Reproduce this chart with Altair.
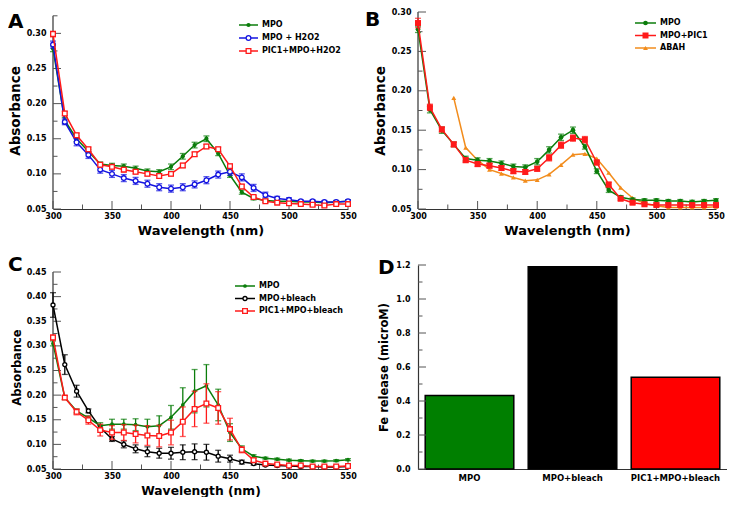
import altair as alt
import pandas as pd

FONT = "DejaVu Sans"
AX = "#333333"
TK = "#555555"
GREEN = "#0b7d0b"
BLUE = "#1414e0"
RED = "#ff1a1a"
ORANGE = "#f28c1c"
BLACK = "#000000"

WL = list(range(300, 551, 10))
ABAH_WL = list(range(330, 551, 10))

# Panel A / B shared MPO spectrum
MPO = [0.278, 0.176, 0.150, 0.132, 0.114, 0.112, 0.111, 0.108, 0.104, 0.103, 0.110, 0.125, 0.141,
       0.150, 0.129, 0.098, 0.074, 0.065, 0.062, 0.061, 0.061, 0.060, 0.060, 0.059, 0.060, 0.061]
MPO_ERR = [0.004, 0.004, 0.004, 0.003, 0.003, 0.003, 0.003, 0.003, 0.003, 0.003, 0.004, 0.004, 0.004,
           0.004, 0.003, 0.003, 0.003, 0.002, 0.002, 0.002, 0.002, 0.002, 0.002, 0.002, 0.002, 0.002]
MPO_H2O2 = [0.284, 0.174, 0.145, 0.127, 0.106, 0.100, 0.094, 0.090, 0.086, 0.081, 0.079, 0.081, 0.085,
            0.091, 0.099, 0.103, 0.095, 0.080, 0.070, 0.065, 0.063, 0.061, 0.061, 0.060, 0.060, 0.061]
MPO_H2O2_ERR = [0.005, 0.004, 0.005, 0.005, 0.005, 0.005, 0.005, 0.005, 0.005, 0.005, 0.005, 0.005, 0.005,
                0.005, 0.005, 0.005, 0.005, 0.005, 0.004, 0.003, 0.003, 0.002, 0.002, 0.002, 0.002, 0.002]
PIC_H2O2 = [0.299, 0.186, 0.155, 0.135, 0.113, 0.110, 0.106, 0.103, 0.100, 0.097, 0.100, 0.112, 0.128,
            0.139, 0.135, 0.111, 0.082, 0.067, 0.061, 0.059, 0.058, 0.057, 0.056, 0.055, 0.057, 0.057]
PIC_H2O2_ERR = [0.004, 0.003, 0.003, 0.003, 0.003, 0.003, 0.003, 0.003, 0.003, 0.003, 0.003, 0.003, 0.003,
                0.003, 0.003, 0.003, 0.003, 0.002, 0.002, 0.002, 0.002, 0.002, 0.002, 0.002, 0.002, 0.002]

# Panel B
MPO_PIC = [0.286, 0.179, 0.151, 0.132, 0.112, 0.107, 0.105, 0.102, 0.098, 0.097, 0.101, 0.115, 0.131,
           0.140, 0.138, 0.109, 0.081, 0.063, 0.058, 0.056, 0.055, 0.055, 0.055, 0.055, 0.055, 0.055]
MPO_PIC_ERR = [0.006, 0.004, 0.003, 0.003, 0.003, 0.003, 0.003, 0.003, 0.003, 0.003, 0.003, 0.004, 0.004,
               0.004, 0.004, 0.003, 0.003, 0.002, 0.002, 0.002, 0.002, 0.002, 0.002, 0.002, 0.002, 0.002]
ABAH = [0.191, 0.128, 0.112, 0.100, 0.095, 0.090, 0.086, 0.087, 0.094, 0.106, 0.119, 0.120,
        0.114, 0.096, 0.077, 0.064, 0.057, 0.054, 0.052, 0.052, 0.052, 0.052, 0.053]

# Panel C
C_MPO = [0.305, 0.195, 0.168, 0.154, 0.138, 0.141, 0.141, 0.140, 0.136, 0.138, 0.155, 0.180, 0.208,
         0.219, 0.180, 0.124, 0.091, 0.076, 0.072, 0.070, 0.068, 0.067, 0.066, 0.066, 0.067, 0.069]
C_MPO_ERR = [0.005, 0.004, 0.004, 0.004, 0.006, 0.010, 0.010, 0.012, 0.015, 0.020, 0.024, 0.035, 0.044,
             0.043, 0.032, 0.018, 0.006, 0.003, 0.002, 0.002, 0.002, 0.002, 0.002, 0.002, 0.002, 0.002]
BLEACH = [0.383, 0.262, 0.208, 0.168, 0.134, 0.111, 0.100, 0.091, 0.085, 0.082, 0.082, 0.084, 0.085,
          0.084, 0.076, 0.071, 0.064, 0.061, 0.058, 0.057, 0.056, 0.055, 0.055, 0.054, 0.054, 0.055]
BLEACH_ERR = [0.025, 0.020, 0.012, 0.004, 0.005, 0.005, 0.007, 0.008, 0.010, 0.010, 0.012, 0.015, 0.016,
              0.016, 0.012, 0.007, 0.004, 0.003, 0.002, 0.002, 0.002, 0.002, 0.002, 0.002, 0.002, 0.002]
PIC_BLEACH = [0.317, 0.195, 0.166, 0.149, 0.129, 0.124, 0.124, 0.121, 0.118, 0.117, 0.124, 0.146, 0.172,
              0.183, 0.174, 0.131, 0.089, 0.068, 0.061, 0.059, 0.057, 0.057, 0.055, 0.055, 0.055, 0.056]
PIC_BLEACH_ERR = [0.005, 0.004, 0.006, 0.008, 0.012, 0.014, 0.016, 0.018, 0.020, 0.022, 0.025, 0.030, 0.036,
                  0.040, 0.033, 0.022, 0.006, 0.004, 0.003, 0.002, 0.002, 0.002, 0.002, 0.002, 0.002, 0.002]

# Panel D
D_CATS = ["MPO", "MPO+bleach", "PIC1+MPO+bleach"]
D_VALS = [0.432, 1.189, 0.540]
D_COLORS = ["#007f00", "#000000", "#ff0000"]

X_MAJOR = [300, 350, 400, 450, 500, 550]
X_MINOR = [325, 375, 425, 475, 525]
AB_Y_MAJOR = [0.05, 0.10, 0.15, 0.20, 0.25, 0.30]
A_Y_MINOR = [0.075, 0.125, 0.175, 0.225, 0.275, 0.325]
B_Y_MINOR = [0.075, 0.125, 0.175, 0.225, 0.275]
C_Y_MAJOR = [0.05, 0.10, 0.15, 0.20, 0.25, 0.30, 0.35, 0.40, 0.45]
C_Y_MINOR = [0.075, 0.125, 0.175, 0.225, 0.275, 0.325, 0.375, 0.425]
D_Y_MAJOR = [0.0, 0.2, 0.4, 0.6, 0.8, 1.0, 1.2]
D_Y_MINOR = [0.1, 0.3, 0.5, 0.7, 0.9, 1.1]

MAJ_LEN = 8
MIN_LEN = 4.5


def point_mark(shape, color, filled, size, data=None):
    ch = alt.Chart(data) if data is not None else alt.Chart()
    if filled:
        return ch.mark_point(shape=shape, filled=True, color=color, size=size, opacity=1)
    return ch.mark_point(shape=shape, filled=True, fill="white", stroke=color,
                         strokeWidth=1.3, size=size, opacity=1)


def series_layers(X, Y, wl, vals, errs, color, shape, filled, size):
    df = pd.DataFrame({"wl": wl, "v": vals})
    out = []
    if errs is not None:
        df["e"] = errs
        eb = alt.Chart(df).transform_calculate(lo="datum.v - datum.e", hi="datum.v + datum.e")
        out.append(eb.mark_rule(color=color, strokeWidth=1.3).encode(
            x=X("wl"), y=Y("lo"), y2="hi:Q"))
        for f in ["lo", "hi"]:
            out.append(eb.mark_tick(color=color, orient="horizontal", size=6, thickness=1.3).encode(
                x=X("wl"), y=Y(f)))
    out.append(alt.Chart(df).mark_line(color=color, strokeWidth=1.5).encode(x=X("wl"), y=Y("v")))
    out.append(point_mark(shape, color, filled, size, df).encode(x=X("wl"), y=Y("v")))
    return out


def legend_layers(entries, lx0, lx1, tx, rows):
    out = []
    for (label, color, shape, filled, size), y in zip(entries, rows):
        d = pd.DataFrame({"label": [label]})
        out.append(alt.Chart(d).mark_rule(color=color, strokeWidth=1.5).encode(
            x=alt.value(lx0), x2=alt.value(lx1), y=alt.value(y)))
        out.append(point_mark(shape, color, filled, size, d).encode(
            x=alt.value((lx0 + lx1) / 2), y=alt.value(y)))
        out.append(alt.Chart(d).mark_text(align="left", baseline="middle", font=FONT, fontSize=8,
                                          fontWeight="bold", color="black").encode(
            x=alt.value(tx), y=alt.value(y), text="label:N"))
    return out


def letter_layer(letter, x, y):
    return alt.Chart(pd.DataFrame({"t": [letter]})).mark_text(
        align="left", baseline="top", font=FONT, fontSize=20, fontWeight="bold", color="black").encode(
        x=alt.value(x), y=alt.value(y), text="t:N")


def line_panel(series, W, H, ytop, yoff, ymaj, yminor, xtitle_fs, ytitle_fs, ytitle_pad,
               legend, leg_x, leg_rows, letter, letter_xy):
    ymin = 0.05
    ymax = ymin + (ytop - ymin) * H / (H - yoff)
    xs = alt.Scale(domain=[300, 550], nice=False, zero=False)
    ys = alt.Scale(domain=[ymin, ymax], nice=False, zero=False)
    xaxis = alt.Axis(
        title="Wavelength (nm)", values=X_MAJOR, format="d", ticks=False, tickSize=0,
        domain=True, domainColor=AX, domainWidth=1.2, grid=False, labelFlush=False,
        labelFont=FONT, labelFontSize=8, labelFontWeight="bold", labelColor="black",
        labelPadding=3, titleFont=FONT, titleFontSize=xtitle_fs, titleFontWeight="bold",
        titleColor="black", titlePadding=4)
    yaxis = alt.Axis(
        title="Absorbance", values=ymaj, format=".2f", ticks=False, tickSize=0,
        domain=False, grid=False, labelFlush=False, labelOverlap=False,
        labelFont=FONT, labelFontSize=8, labelFontWeight="bold", labelColor="black",
        labelPadding=7, titleFont=FONT, titleFontSize=ytitle_fs, titleFontWeight="bold",
        titleColor="black", titlePadding=ytitle_pad)

    def X(f):
        return alt.X(f + ":Q", scale=xs, axis=xaxis, title="Wavelength (nm)")

    def Y(f):
        return alt.Y(f + ":Q", scale=ys, axis=yaxis, title="Absorbance")

    ax = pd.DataFrame({"x": [300], "y": [ymin], "y2": [ytop]})
    layers = [alt.Chart(ax).mark_rule(color=AX, strokeWidth=1.2).encode(
        x=X("x"), y=Y("y"), y2="y2:Q")]
    for vals, L in [(X_MAJOR, MAJ_LEN), (X_MINOR, MIN_LEN)]:
        layers.append(alt.Chart(pd.DataFrame({"v": vals})).mark_rule(color=TK, strokeWidth=1).encode(
            x=X("v"), y=alt.value(H), y2=alt.value(H - L)))
    for vals, L in [(ymaj, MAJ_LEN), (yminor, MIN_LEN)]:
        layers.append(alt.Chart(pd.DataFrame({"v": vals})).mark_rule(color=TK, strokeWidth=1).encode(
            y=Y("v"), x=alt.value(0), x2=alt.value(L)))
    for s in series:
        layers += series_layers(X, Y, *s)
    layers += legend_layers(legend, leg_x[0], leg_x[1], leg_x[2], leg_rows)
    layers.append(letter_layer(letter, *letter_xy))
    return alt.layer(*layers).properties(width=W, height=H)


W1, H1, H2 = 295, 197, 204

pA = line_panel(
    [(WL, MPO, MPO_ERR, GREEN, "circle", True, 18),
     (WL, MPO_H2O2, MPO_H2O2_ERR, BLUE, "circle", False, 22),
     (WL, PIC_H2O2, PIC_H2O2_ERR, RED, "square", False, 22)],
    W1, H1, 0.325, 3.8, AB_Y_MAJOR, A_Y_MINOR, 13, 13.5, 4,
    [("MPO", GREEN, "circle", True, 18), ("MPO + H2O2", BLUE, "circle", False, 22),
     ("PIC1+MPO+H2O2", RED, "square", False, 22)],
    (186, 205, 209), [13, 26, 39], "A", (-45, 0))

pB = line_panel(
    [(ABAH_WL, ABAH, None, ORANGE, "triangle-up", True, 24),
     (WL, MPO, MPO_ERR, GREEN, "circle", True, 22),
     (WL, MPO_PIC, MPO_PIC_ERR, RED, "square", True, 36)],
    298, H1, 0.30, 0, AB_Y_MAJOR, B_Y_MINOR, 13, 13.5, 4,
    [("MPO", GREEN, "circle", True, 22), ("MPO+PIC1", RED, "square", True, 36),
     ("ABAH", ORANGE, "triangle-up", True, 24)],
    (217, 238, 242), [11, 23.5, 36], "B", (-53, -2))

pC = line_panel(
    [(WL, BLEACH, BLEACH_ERR, BLACK, "circle", False, 16),
     (WL, C_MPO, C_MPO_ERR, GREEN, "circle", True, 14),
     (WL, PIC_BLEACH, PIC_BLEACH_ERR, RED, "square", False, 22)],
    W1, H2, 0.45, 7, C_Y_MAJOR, C_Y_MINOR, 12.3, 11.5, 4,
    [("MPO", GREEN, "circle", True, 14), ("MPO+bleach", BLACK, "circle", False, 16),
     ("PIC1+MPO+bleach", RED, "square", False, 22)],
    (182, 202, 206), [21, 33.5, 46], "C", (-45, -10))

# Panel D
d_ys = alt.Scale(domain=[0, 1.2], nice=False)
d_yaxis = alt.Axis(title="Fe release (microM)", values=D_Y_MAJOR, format=".1f", ticks=False,
                   tickSize=0, domain=True, domainColor=AX, domainWidth=1.2, grid=False,
                   labelFlush=False, labelOverlap=False, labelFont=FONT, labelFontSize=8,
                   labelFontWeight="bold", labelColor="black", labelPadding=8,
                   titleFont=FONT, titleFontSize=11.5, titleFontWeight="bold",
                   titleColor="black", titlePadding=6)
d_df = pd.DataFrame({"cat": D_CATS, "val": D_VALS})
d_bars = alt.Chart(d_df).mark_bar(stroke="black", strokeWidth=1.5).encode(
    x=alt.X("cat:N", sort=D_CATS,
            scale=alt.Scale(domain=D_CATS, paddingInner=0.14, paddingOuter=0.07),
            axis=alt.Axis(title=None, labelAngle=0, ticks=False, tickSize=0, domain=True,
                          domainColor=AX, domainWidth=1.2, labelFont=FONT, labelFontSize=8.5,
                          labelFontWeight="bold", labelColor="black", labelPadding=4)),
    y=alt.Y("val:Q", scale=d_ys, axis=d_yaxis, title="Fe release (microM)"),
    color=alt.Color("cat:N", scale=alt.Scale(domain=D_CATS, range=D_COLORS), legend=None))
d_ticks = [alt.Chart(pd.DataFrame({"v": vals})).mark_rule(color=TK, strokeWidth=1).encode(
    y=alt.Y("v:Q", scale=d_ys, axis=d_yaxis, title="Fe release (microM)"),
    x=alt.value(0), x2=alt.value(L))
    for vals, L in [(D_Y_MAJOR, MAJ_LEN), (D_Y_MINOR, MIN_LEN)]]
pD = alt.layer(d_bars, *d_ticks, letter_layer("D", -40, -7)).properties(width=309, height=H2)

chart = alt.concat(pA, pB, pC, pD, columns=2, spacing={"row": 56, "column": 70},
                   bounds="flush", align="each").properties(padding=0).configure_view(stroke=None)

chart.save("out.html", embed_options={"renderer": "svg", "actions": False})
